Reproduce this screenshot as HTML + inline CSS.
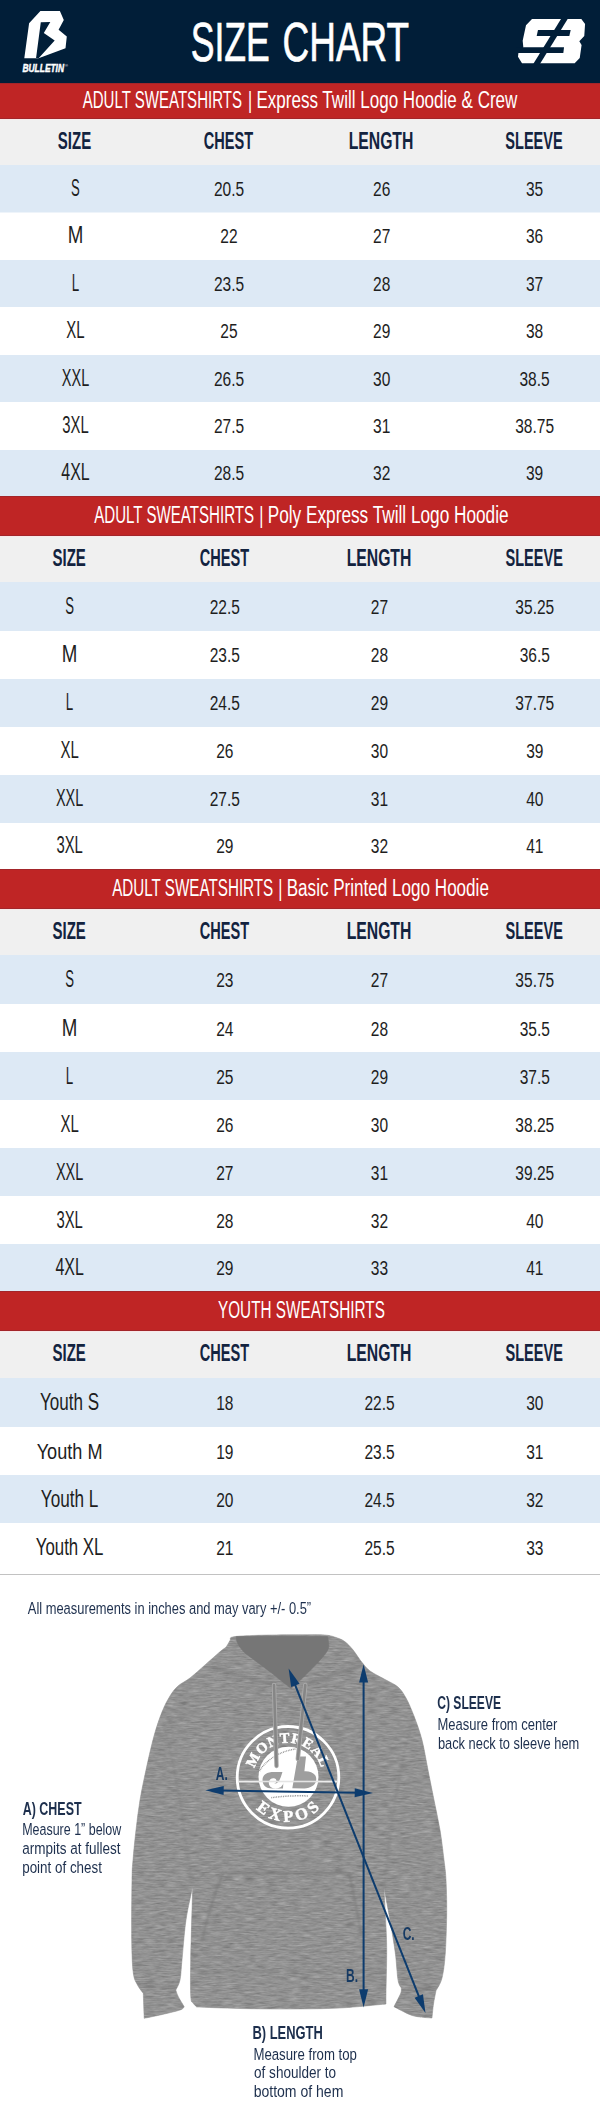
<!DOCTYPE html>
<html lang="en"><head><meta charset="utf-8"><title>Size Chart</title>
<style>html,body{margin:0;padding:0;background:#fff}svg{display:block}</style>
</head><body>
<svg width="600" height="2110" viewBox="0 0 600 2110" font-family="'Liberation Sans', sans-serif">
<rect x="0" y="0" width="600" height="2110" fill="#fff"/>
<rect x="0" y="0" width="600" height="83" fill="#011e38"/>
<rect x="0" y="83" width="600" height="36" fill="#bf2525"/>
<rect x="0" y="119" width="600" height="46" fill="#f0f0f0"/>
<rect x="0" y="83" width="600" height="1" fill="#a3252a"/>
<rect x="0" y="118" width="600" height="1" fill="#a3252a"/>
<rect x="0" y="119" width="600" height="1" fill="#f7e9ea"/>
<rect x="0" y="165.00" width="600" height="47.50" fill="#dde9f5"/>
<rect x="0" y="260.00" width="600" height="47.00" fill="#dde9f5"/>
<rect x="0" y="355.00" width="600" height="47.00" fill="#dde9f5"/>
<rect x="0" y="450.00" width="600" height="46.00" fill="#dde9f5"/>
<rect x="0" y="496" width="600" height="40" fill="#bf2525"/>
<rect x="0" y="536" width="600" height="46" fill="#f0f0f0"/>
<rect x="0" y="496" width="600" height="1" fill="#a3252a"/>
<rect x="0" y="535" width="600" height="1" fill="#a3252a"/>
<rect x="0" y="536" width="600" height="1" fill="#f7e9ea"/>
<rect x="0" y="582.00" width="600" height="49.00" fill="#dde9f5"/>
<rect x="0" y="679.00" width="600" height="48.00" fill="#dde9f5"/>
<rect x="0" y="775.00" width="600" height="48.00" fill="#dde9f5"/>
<rect x="0" y="869" width="600" height="40" fill="#bf2525"/>
<rect x="0" y="909" width="600" height="46" fill="#f0f0f0"/>
<rect x="0" y="869" width="600" height="1" fill="#a3252a"/>
<rect x="0" y="908" width="600" height="1" fill="#a3252a"/>
<rect x="0" y="909" width="600" height="1" fill="#f7e9ea"/>
<rect x="0" y="955.00" width="600" height="49.00" fill="#dde9f5"/>
<rect x="0" y="1052.00" width="600" height="48.00" fill="#dde9f5"/>
<rect x="0" y="1148.00" width="600" height="48.00" fill="#dde9f5"/>
<rect x="0" y="1244.00" width="600" height="47.00" fill="#dde9f5"/>
<rect x="0" y="1291" width="600" height="40" fill="#bf2525"/>
<rect x="0" y="1331" width="600" height="47" fill="#f0f0f0"/>
<rect x="0" y="1291" width="600" height="1" fill="#a3252a"/>
<rect x="0" y="1330" width="600" height="1" fill="#a3252a"/>
<rect x="0" y="1331" width="600" height="1" fill="#f7e9ea"/>
<rect x="0" y="1378.00" width="600" height="49.00" fill="#dde9f5"/>
<rect x="0" y="1475.00" width="600" height="48.00" fill="#dde9f5"/>
<rect x="0" y="1574" width="600" height="1" fill="#c2c2c2"/>
<text x="82.70" y="107.80" font-size="23" font-weight="normal" fill="#fff" textLength="159.30" lengthAdjust="spacingAndGlyphs">ADULT SWEATSHIRTS</text>
<text transform="translate(250.00 107.80) scale(0.7 1)" font-size="23" fill="#fff" text-anchor="middle">|</text>
<text x="256.41" y="107.80" font-size="23" font-weight="normal" fill="#fff" textLength="260.99" lengthAdjust="spacingAndGlyphs">Express Twill Logo Hoodie &amp; Crew</text>
<text transform="translate(74.50 148.60) scale(0.652 1)" font-size="23" font-weight="bold" fill="#13233f" text-anchor="middle">SIZE</text>
<text transform="translate(228.40 148.60) scale(0.633 1)" font-size="23" font-weight="bold" fill="#13233f" text-anchor="middle">CHEST</text>
<text transform="translate(381.00 148.60) scale(0.685 1)" font-size="23" font-weight="bold" fill="#13233f" text-anchor="middle">LENGTH</text>
<text transform="translate(534.00 148.60) scale(0.632 1)" font-size="23" font-weight="bold" fill="#13233f" text-anchor="middle">SLEEVE</text>
<text transform="translate(75.50 195.85) scale(0.571 1)" font-size="23" font-weight="normal" fill="#1e1e1e" text-anchor="middle">S</text>
<text transform="translate(229.00 195.85) scale(0.740 1)" font-size="21" font-weight="normal" fill="#1e1e1e" text-anchor="middle">20.5</text>
<text transform="translate(381.70 195.85) scale(0.740 1)" font-size="21" font-weight="normal" fill="#1e1e1e" text-anchor="middle">26</text>
<text transform="translate(534.60 195.85) scale(0.740 1)" font-size="21" font-weight="normal" fill="#1e1e1e" text-anchor="middle">35</text>
<text transform="translate(75.50 243.35) scale(0.813 1)" font-size="23" font-weight="normal" fill="#1e1e1e" text-anchor="middle">M</text>
<text transform="translate(229.00 243.35) scale(0.740 1)" font-size="21" font-weight="normal" fill="#1e1e1e" text-anchor="middle">22</text>
<text transform="translate(381.70 243.35) scale(0.740 1)" font-size="21" font-weight="normal" fill="#1e1e1e" text-anchor="middle">27</text>
<text transform="translate(534.60 243.35) scale(0.740 1)" font-size="21" font-weight="normal" fill="#1e1e1e" text-anchor="middle">36</text>
<text transform="translate(75.50 290.60) scale(0.583 1)" font-size="23" font-weight="normal" fill="#1e1e1e" text-anchor="middle">L</text>
<text transform="translate(229.00 290.60) scale(0.740 1)" font-size="21" font-weight="normal" fill="#1e1e1e" text-anchor="middle">23.5</text>
<text transform="translate(381.70 290.60) scale(0.740 1)" font-size="21" font-weight="normal" fill="#1e1e1e" text-anchor="middle">28</text>
<text transform="translate(534.60 290.60) scale(0.740 1)" font-size="21" font-weight="normal" fill="#1e1e1e" text-anchor="middle">37</text>
<text transform="translate(75.50 338.10) scale(0.651 1)" font-size="23" font-weight="normal" fill="#1e1e1e" text-anchor="middle">XL</text>
<text transform="translate(229.00 338.10) scale(0.740 1)" font-size="21" font-weight="normal" fill="#1e1e1e" text-anchor="middle">25</text>
<text transform="translate(381.70 338.10) scale(0.740 1)" font-size="21" font-weight="normal" fill="#1e1e1e" text-anchor="middle">29</text>
<text transform="translate(534.60 338.10) scale(0.740 1)" font-size="21" font-weight="normal" fill="#1e1e1e" text-anchor="middle">38</text>
<text transform="translate(75.50 385.60) scale(0.629 1)" font-size="23" font-weight="normal" fill="#1e1e1e" text-anchor="middle">XXL</text>
<text transform="translate(229.00 385.60) scale(0.740 1)" font-size="21" font-weight="normal" fill="#1e1e1e" text-anchor="middle">26.5</text>
<text transform="translate(381.70 385.60) scale(0.740 1)" font-size="21" font-weight="normal" fill="#1e1e1e" text-anchor="middle">30</text>
<text transform="translate(534.60 385.60) scale(0.740 1)" font-size="21" font-weight="normal" fill="#1e1e1e" text-anchor="middle">38.5</text>
<text transform="translate(75.50 433.10) scale(0.645 1)" font-size="23" font-weight="normal" fill="#1e1e1e" text-anchor="middle">3XL</text>
<text transform="translate(229.00 433.10) scale(0.740 1)" font-size="21" font-weight="normal" fill="#1e1e1e" text-anchor="middle">27.5</text>
<text transform="translate(381.70 433.10) scale(0.740 1)" font-size="21" font-weight="normal" fill="#1e1e1e" text-anchor="middle">31</text>
<text transform="translate(534.60 433.10) scale(0.740 1)" font-size="21" font-weight="normal" fill="#1e1e1e" text-anchor="middle">38.75</text>
<text transform="translate(75.50 480.10) scale(0.693 1)" font-size="23" font-weight="normal" fill="#1e1e1e" text-anchor="middle">4XL</text>
<text transform="translate(229.00 480.10) scale(0.740 1)" font-size="21" font-weight="normal" fill="#1e1e1e" text-anchor="middle">28.5</text>
<text transform="translate(381.70 480.10) scale(0.740 1)" font-size="21" font-weight="normal" fill="#1e1e1e" text-anchor="middle">32</text>
<text transform="translate(534.60 480.10) scale(0.740 1)" font-size="21" font-weight="normal" fill="#1e1e1e" text-anchor="middle">39</text>
<text x="94.18" y="522.80" font-size="23" font-weight="normal" fill="#fff" textLength="159.93" lengthAdjust="spacingAndGlyphs">ADULT SWEATSHIRTS</text>
<text transform="translate(261.30 522.80) scale(0.7 1)" font-size="23" fill="#fff" text-anchor="middle">|</text>
<text x="267.70" y="522.80" font-size="23" font-weight="normal" fill="#fff" textLength="240.91" lengthAdjust="spacingAndGlyphs">Poly Express Twill Logo Hoodie</text>
<text transform="translate(69.20 565.60) scale(0.652 1)" font-size="23" font-weight="bold" fill="#13233f" text-anchor="middle">SIZE</text>
<text transform="translate(224.40 565.60) scale(0.633 1)" font-size="23" font-weight="bold" fill="#13233f" text-anchor="middle">CHEST</text>
<text transform="translate(379.00 565.60) scale(0.685 1)" font-size="23" font-weight="bold" fill="#13233f" text-anchor="middle">LENGTH</text>
<text transform="translate(534.20 565.60) scale(0.632 1)" font-size="23" font-weight="bold" fill="#13233f" text-anchor="middle">SLEEVE</text>
<text transform="translate(69.60 613.90) scale(0.571 1)" font-size="23" font-weight="normal" fill="#1e1e1e" text-anchor="middle">S</text>
<text transform="translate(224.80 613.90) scale(0.740 1)" font-size="21" font-weight="normal" fill="#1e1e1e" text-anchor="middle">22.5</text>
<text transform="translate(379.50 613.90) scale(0.740 1)" font-size="21" font-weight="normal" fill="#1e1e1e" text-anchor="middle">27</text>
<text transform="translate(534.80 613.90) scale(0.740 1)" font-size="21" font-weight="normal" fill="#1e1e1e" text-anchor="middle">35.25</text>
<text transform="translate(69.60 662.40) scale(0.813 1)" font-size="23" font-weight="normal" fill="#1e1e1e" text-anchor="middle">M</text>
<text transform="translate(224.80 662.40) scale(0.740 1)" font-size="21" font-weight="normal" fill="#1e1e1e" text-anchor="middle">23.5</text>
<text transform="translate(379.50 662.40) scale(0.740 1)" font-size="21" font-weight="normal" fill="#1e1e1e" text-anchor="middle">28</text>
<text transform="translate(534.80 662.40) scale(0.740 1)" font-size="21" font-weight="normal" fill="#1e1e1e" text-anchor="middle">36.5</text>
<text transform="translate(69.60 710.40) scale(0.583 1)" font-size="23" font-weight="normal" fill="#1e1e1e" text-anchor="middle">L</text>
<text transform="translate(224.80 710.40) scale(0.740 1)" font-size="21" font-weight="normal" fill="#1e1e1e" text-anchor="middle">24.5</text>
<text transform="translate(379.50 710.40) scale(0.740 1)" font-size="21" font-weight="normal" fill="#1e1e1e" text-anchor="middle">29</text>
<text transform="translate(534.80 710.40) scale(0.740 1)" font-size="21" font-weight="normal" fill="#1e1e1e" text-anchor="middle">37.75</text>
<text transform="translate(69.60 758.40) scale(0.651 1)" font-size="23" font-weight="normal" fill="#1e1e1e" text-anchor="middle">XL</text>
<text transform="translate(224.80 758.40) scale(0.740 1)" font-size="21" font-weight="normal" fill="#1e1e1e" text-anchor="middle">26</text>
<text transform="translate(379.50 758.40) scale(0.740 1)" font-size="21" font-weight="normal" fill="#1e1e1e" text-anchor="middle">30</text>
<text transform="translate(534.80 758.40) scale(0.740 1)" font-size="21" font-weight="normal" fill="#1e1e1e" text-anchor="middle">39</text>
<text transform="translate(69.60 806.40) scale(0.629 1)" font-size="23" font-weight="normal" fill="#1e1e1e" text-anchor="middle">XXL</text>
<text transform="translate(224.80 806.40) scale(0.740 1)" font-size="21" font-weight="normal" fill="#1e1e1e" text-anchor="middle">27.5</text>
<text transform="translate(379.50 806.40) scale(0.740 1)" font-size="21" font-weight="normal" fill="#1e1e1e" text-anchor="middle">31</text>
<text transform="translate(534.80 806.40) scale(0.740 1)" font-size="21" font-weight="normal" fill="#1e1e1e" text-anchor="middle">40</text>
<text transform="translate(69.60 853.40) scale(0.645 1)" font-size="23" font-weight="normal" fill="#1e1e1e" text-anchor="middle">3XL</text>
<text transform="translate(224.80 853.40) scale(0.740 1)" font-size="21" font-weight="normal" fill="#1e1e1e" text-anchor="middle">29</text>
<text transform="translate(379.50 853.40) scale(0.740 1)" font-size="21" font-weight="normal" fill="#1e1e1e" text-anchor="middle">32</text>
<text transform="translate(534.80 853.40) scale(0.740 1)" font-size="21" font-weight="normal" fill="#1e1e1e" text-anchor="middle">41</text>
<text x="112.17" y="895.80" font-size="23" font-weight="normal" fill="#fff" textLength="161.09" lengthAdjust="spacingAndGlyphs">ADULT SWEATSHIRTS</text>
<text transform="translate(280.30 895.80) scale(0.7 1)" font-size="23" fill="#fff" text-anchor="middle">|</text>
<text x="286.73" y="895.80" font-size="23" font-weight="normal" fill="#fff" textLength="202.19" lengthAdjust="spacingAndGlyphs">Basic Printed Logo Hoodie</text>
<text transform="translate(69.20 938.60) scale(0.652 1)" font-size="23" font-weight="bold" fill="#13233f" text-anchor="middle">SIZE</text>
<text transform="translate(224.40 938.60) scale(0.633 1)" font-size="23" font-weight="bold" fill="#13233f" text-anchor="middle">CHEST</text>
<text transform="translate(379.00 938.60) scale(0.685 1)" font-size="23" font-weight="bold" fill="#13233f" text-anchor="middle">LENGTH</text>
<text transform="translate(534.20 938.60) scale(0.632 1)" font-size="23" font-weight="bold" fill="#13233f" text-anchor="middle">SLEEVE</text>
<text transform="translate(69.60 987.00) scale(0.571 1)" font-size="23" font-weight="normal" fill="#1e1e1e" text-anchor="middle">S</text>
<text transform="translate(224.80 987.00) scale(0.740 1)" font-size="21" font-weight="normal" fill="#1e1e1e" text-anchor="middle">23</text>
<text transform="translate(379.50 987.00) scale(0.740 1)" font-size="21" font-weight="normal" fill="#1e1e1e" text-anchor="middle">27</text>
<text transform="translate(534.80 987.00) scale(0.740 1)" font-size="21" font-weight="normal" fill="#1e1e1e" text-anchor="middle">35.75</text>
<text transform="translate(69.60 1035.50) scale(0.813 1)" font-size="23" font-weight="normal" fill="#1e1e1e" text-anchor="middle">M</text>
<text transform="translate(224.80 1035.50) scale(0.740 1)" font-size="21" font-weight="normal" fill="#1e1e1e" text-anchor="middle">24</text>
<text transform="translate(379.50 1035.50) scale(0.740 1)" font-size="21" font-weight="normal" fill="#1e1e1e" text-anchor="middle">28</text>
<text transform="translate(534.80 1035.50) scale(0.740 1)" font-size="21" font-weight="normal" fill="#1e1e1e" text-anchor="middle">35.5</text>
<text transform="translate(69.60 1083.50) scale(0.583 1)" font-size="23" font-weight="normal" fill="#1e1e1e" text-anchor="middle">L</text>
<text transform="translate(224.80 1083.50) scale(0.740 1)" font-size="21" font-weight="normal" fill="#1e1e1e" text-anchor="middle">25</text>
<text transform="translate(379.50 1083.50) scale(0.740 1)" font-size="21" font-weight="normal" fill="#1e1e1e" text-anchor="middle">29</text>
<text transform="translate(534.80 1083.50) scale(0.740 1)" font-size="21" font-weight="normal" fill="#1e1e1e" text-anchor="middle">37.5</text>
<text transform="translate(69.60 1131.50) scale(0.651 1)" font-size="23" font-weight="normal" fill="#1e1e1e" text-anchor="middle">XL</text>
<text transform="translate(224.80 1131.50) scale(0.740 1)" font-size="21" font-weight="normal" fill="#1e1e1e" text-anchor="middle">26</text>
<text transform="translate(379.50 1131.50) scale(0.740 1)" font-size="21" font-weight="normal" fill="#1e1e1e" text-anchor="middle">30</text>
<text transform="translate(534.80 1131.50) scale(0.740 1)" font-size="21" font-weight="normal" fill="#1e1e1e" text-anchor="middle">38.25</text>
<text transform="translate(69.60 1179.50) scale(0.629 1)" font-size="23" font-weight="normal" fill="#1e1e1e" text-anchor="middle">XXL</text>
<text transform="translate(224.80 1179.50) scale(0.740 1)" font-size="21" font-weight="normal" fill="#1e1e1e" text-anchor="middle">27</text>
<text transform="translate(379.50 1179.50) scale(0.740 1)" font-size="21" font-weight="normal" fill="#1e1e1e" text-anchor="middle">31</text>
<text transform="translate(534.80 1179.50) scale(0.740 1)" font-size="21" font-weight="normal" fill="#1e1e1e" text-anchor="middle">39.25</text>
<text transform="translate(69.60 1227.50) scale(0.645 1)" font-size="23" font-weight="normal" fill="#1e1e1e" text-anchor="middle">3XL</text>
<text transform="translate(224.80 1227.50) scale(0.740 1)" font-size="21" font-weight="normal" fill="#1e1e1e" text-anchor="middle">28</text>
<text transform="translate(379.50 1227.50) scale(0.740 1)" font-size="21" font-weight="normal" fill="#1e1e1e" text-anchor="middle">32</text>
<text transform="translate(534.80 1227.50) scale(0.740 1)" font-size="21" font-weight="normal" fill="#1e1e1e" text-anchor="middle">40</text>
<text transform="translate(69.60 1275.00) scale(0.693 1)" font-size="23" font-weight="normal" fill="#1e1e1e" text-anchor="middle">4XL</text>
<text transform="translate(224.80 1275.00) scale(0.740 1)" font-size="21" font-weight="normal" fill="#1e1e1e" text-anchor="middle">29</text>
<text transform="translate(379.50 1275.00) scale(0.740 1)" font-size="21" font-weight="normal" fill="#1e1e1e" text-anchor="middle">33</text>
<text transform="translate(534.80 1275.00) scale(0.740 1)" font-size="21" font-weight="normal" fill="#1e1e1e" text-anchor="middle">41</text>
<text x="217.97" y="1317.80" font-size="23" font-weight="normal" fill="#fff" textLength="166.94" lengthAdjust="spacingAndGlyphs">YOUTH SWEATSHIRTS</text>
<text transform="translate(69.20 1361.10) scale(0.652 1)" font-size="23" font-weight="bold" fill="#13233f" text-anchor="middle">SIZE</text>
<text transform="translate(224.40 1361.10) scale(0.633 1)" font-size="23" font-weight="bold" fill="#13233f" text-anchor="middle">CHEST</text>
<text transform="translate(379.00 1361.10) scale(0.685 1)" font-size="23" font-weight="bold" fill="#13233f" text-anchor="middle">LENGTH</text>
<text transform="translate(534.20 1361.10) scale(0.632 1)" font-size="23" font-weight="bold" fill="#13233f" text-anchor="middle">SLEEVE</text>
<text transform="translate(69.60 1410.00) scale(0.742 1)" font-size="23" font-weight="normal" fill="#1e1e1e" text-anchor="middle">Youth S</text>
<text transform="translate(224.80 1410.00) scale(0.740 1)" font-size="21" font-weight="normal" fill="#1e1e1e" text-anchor="middle">18</text>
<text transform="translate(379.50 1410.00) scale(0.740 1)" font-size="21" font-weight="normal" fill="#1e1e1e" text-anchor="middle">22.5</text>
<text transform="translate(534.80 1410.00) scale(0.740 1)" font-size="21" font-weight="normal" fill="#1e1e1e" text-anchor="middle">30</text>
<text transform="translate(69.60 1458.50) scale(0.788 1)" font-size="23" font-weight="normal" fill="#1e1e1e" text-anchor="middle">Youth M</text>
<text transform="translate(224.80 1458.50) scale(0.740 1)" font-size="21" font-weight="normal" fill="#1e1e1e" text-anchor="middle">19</text>
<text transform="translate(379.50 1458.50) scale(0.740 1)" font-size="21" font-weight="normal" fill="#1e1e1e" text-anchor="middle">23.5</text>
<text transform="translate(534.80 1458.50) scale(0.740 1)" font-size="21" font-weight="normal" fill="#1e1e1e" text-anchor="middle">31</text>
<text transform="translate(69.60 1506.50) scale(0.746 1)" font-size="23" font-weight="normal" fill="#1e1e1e" text-anchor="middle">Youth L</text>
<text transform="translate(224.80 1506.50) scale(0.740 1)" font-size="21" font-weight="normal" fill="#1e1e1e" text-anchor="middle">20</text>
<text transform="translate(379.50 1506.50) scale(0.740 1)" font-size="21" font-weight="normal" fill="#1e1e1e" text-anchor="middle">24.5</text>
<text transform="translate(534.80 1506.50) scale(0.740 1)" font-size="21" font-weight="normal" fill="#1e1e1e" text-anchor="middle">32</text>
<text transform="translate(69.60 1554.50) scale(0.731 1)" font-size="23" font-weight="normal" fill="#1e1e1e" text-anchor="middle">Youth XL</text>
<text transform="translate(224.80 1554.50) scale(0.740 1)" font-size="21" font-weight="normal" fill="#1e1e1e" text-anchor="middle">21</text>
<text transform="translate(379.50 1554.50) scale(0.740 1)" font-size="21" font-weight="normal" fill="#1e1e1e" text-anchor="middle">25.5</text>
<text transform="translate(534.80 1554.50) scale(0.740 1)" font-size="21" font-weight="normal" fill="#1e1e1e" text-anchor="middle">33</text>
<text x="190.74" y="61.00" font-size="55.7" font-weight="normal" fill="#fff" textLength="79.13" lengthAdjust="spacingAndGlyphs" stroke="#fff" stroke-width="0.7">SIZE</text>
<text x="282.58" y="61.00" font-size="55.7" font-weight="normal" fill="#fff" textLength="126.49" lengthAdjust="spacingAndGlyphs" stroke="#fff" stroke-width="0.7">CHART</text>
<path d="M40.40,11.00 L59.90,11.00 L63.80,20.10 L58.60,29.70 L66.80,36.60 L65.50,48.30 L38.60,58.30 L24.30,58.30 L29.10,23.20 Z M40.80,22.30 L50.30,21.90 L43.80,33.10 L54.70,40.50 L38.40,58.40 L36.00,58.40 Z" fill="#fff" fill-rule="evenodd"/>
<text x="22.5" y="71.5" font-size="10.9" font-weight="bold" font-style="italic" fill="#fff" stroke="#fff" stroke-width="0.45" textLength="41.5" lengthAdjust="spacingAndGlyphs">BULLETIN</text>
<text x="65" y="67" font-size="4" fill="#fff">®</text>
<polygon points="532.00,19.07 581.33,19.07 585.07,24.00 584.27,36.00 579.33,41.33 581.60,44.93 579.73,58.00 574.67,63.33 522.00,63.33 518.00,56.67 518.40,52.93 523.33,47.33 522.67,40.67 526.00,25.33" fill="#fff"/>
<polygon points="538.00,30.00 570.67,30.00 569.33,36.00 536.67,36.00" fill="#011e38"/>
<polygon points="516.00,47.33 564.00,47.33 563.33,52.93 516.00,52.93" fill="#011e38"/>
<polygon points="561.60,18.00 568.27,18.00 539.60,64.40 532.93,64.40" fill="#011e38"/>
<defs><clipPath id="hc"><path d="M233.75,1636.75 C239.08,1635.87 250.96,1635.53 262.00,1635.20 C273.04,1634.88 289.50,1634.83 300.00,1634.80 C310.50,1634.77 318.75,1634.47 325.00,1635.00 C331.25,1635.53 334.17,1636.88 337.50,1638.00 C340.83,1639.12 342.50,1639.88 345.00,1641.75 C347.50,1643.62 350.21,1646.54 352.50,1649.25 C354.79,1651.96 357.08,1655.71 358.75,1658.00 C360.42,1660.29 360.62,1660.83 362.50,1663.00 C364.38,1665.17 366.08,1668.17 370.00,1671.00 C373.92,1673.83 381.33,1677.33 386.00,1680.00 C390.67,1682.67 394.67,1684.00 398.00,1687.00 C401.33,1690.00 403.33,1693.17 406.00,1698.00 C408.67,1702.83 411.33,1709.00 414.00,1716.00 C416.67,1723.00 419.67,1731.00 422.00,1740.00 C424.33,1749.00 426.00,1760.00 428.00,1770.00 C430.00,1780.00 432.00,1790.00 434.00,1800.00 C436.00,1810.00 438.33,1820.00 440.00,1830.00 C441.67,1840.00 443.00,1851.67 444.00,1860.00 C445.00,1868.33 445.55,1871.17 446.00,1880.00 C446.45,1888.83 446.82,1900.83 446.70,1913.00 C446.58,1925.17 446.08,1942.17 445.30,1953.00 C444.52,1963.83 443.55,1971.72 442.00,1978.00 C440.45,1984.28 437.00,1988.58 436.00,1990.70 C435.58,1992.92 434.17,1999.45 433.50,2004.00 C432.83,2008.55 432.25,2015.67 432.00,2018.00 C430.00,2017.83 423.67,2017.55 420.00,2017.00 C416.33,2016.45 414.33,2016.42 410.00,2014.70 C405.67,2012.98 396.67,2008.03 394.00,2006.70 C395.12,2004.47 399.48,1996.42 400.70,1993.30 C401.92,1990.18 401.20,1988.88 401.30,1988.00 C400.75,1986.67 399.00,1985.83 398.00,1980.00 C397.00,1974.17 396.63,1963.00 395.30,1953.00 C393.97,1943.00 391.88,1930.83 390.00,1920.00 C388.12,1909.17 385.00,1893.33 384.00,1888.00 C384.33,1894.45 385.55,1915.87 386.00,1926.70 C386.45,1937.53 386.70,1941.90 386.70,1953.00 C386.70,1964.10 386.12,1984.80 386.00,1993.30 C385.88,2001.80 386.00,2002.22 386.00,2004.00 C378.33,2004.67 356.00,2007.17 340.00,2008.00 C324.00,2008.83 306.67,2008.92 290.00,2009.00 C273.33,2009.08 255.55,2008.83 240.00,2008.50 C224.45,2008.17 203.92,2007.25 196.70,2007.00 C196.13,2006.38 194.28,2005.02 193.30,2003.30 C192.32,2001.58 191.23,2003.92 190.80,1996.70 C190.37,1989.48 190.38,1978.33 190.70,1960.00 C191.02,1941.67 192.37,1898.92 192.70,1886.70 C191.58,1892.25 187.78,1907.78 186.00,1920.00 C184.22,1932.22 183.00,1950.00 182.00,1960.00 C181.00,1970.00 181.03,1975.00 180.00,1980.00 C178.97,1985.00 176.50,1988.33 175.80,1990.00 C176.22,1991.12 176.90,1993.92 178.30,1996.70 C179.70,1999.48 183.22,2005.03 184.20,2006.70 C183.50,2007.25 184.03,2008.62 180.00,2010.00 C175.97,2011.38 165.97,2013.62 160.00,2015.00 C154.03,2016.38 146.83,2017.75 144.20,2018.30 C144.05,2014.13 143.45,1997.47 143.30,1993.30 C142.33,1991.92 139.17,1988.38 137.50,1985.00 C135.83,1981.62 134.27,1980.50 133.30,1973.00 C132.33,1965.50 131.92,1955.50 131.70,1940.00 C131.48,1924.50 131.78,1893.33 132.00,1880.00 C132.22,1866.67 132.33,1868.33 133.00,1860.00 C133.67,1851.67 134.83,1840.00 136.00,1830.00 C137.17,1820.00 138.33,1810.00 140.00,1800.00 C141.67,1790.00 143.67,1780.67 146.00,1770.00 C148.33,1759.33 151.33,1745.67 154.00,1736.00 C156.67,1726.33 159.33,1718.67 162.00,1712.00 C164.67,1705.33 167.33,1700.33 170.00,1696.00 C172.67,1691.67 174.67,1689.00 178.00,1686.00 C181.33,1683.00 185.45,1681.55 190.00,1678.00 C194.55,1674.45 200.30,1669.08 205.30,1664.70 C210.30,1660.33 216.51,1654.74 220.00,1651.75 C223.49,1648.76 224.58,1648.62 226.25,1646.75 C227.92,1644.88 228.75,1642.17 230.00,1640.50 C231.25,1638.83 228.42,1637.63 233.75,1636.75 Z"/></clipPath><filter id="nz" x="0" y="0" width="100%" height="100%" color-interpolation-filters="sRGB"><feTurbulence type="fractalNoise" baseFrequency="0.09 0.6" numOctaves="3" seed="5"/><feColorMatrix type="matrix" values="0.33 0.33 0.33 0 0 0.33 0.33 0.33 0 0 0.33 0.33 0.33 0 0 0 0 0 0 1"/></filter><filter id="bl"><feGaussianBlur stdDeviation="1.2"/></filter></defs>
<path d="M233.75,1636.75 C239.08,1635.87 250.96,1635.53 262.00,1635.20 C273.04,1634.88 289.50,1634.83 300.00,1634.80 C310.50,1634.77 318.75,1634.47 325.00,1635.00 C331.25,1635.53 334.17,1636.88 337.50,1638.00 C340.83,1639.12 342.50,1639.88 345.00,1641.75 C347.50,1643.62 350.21,1646.54 352.50,1649.25 C354.79,1651.96 357.08,1655.71 358.75,1658.00 C360.42,1660.29 360.62,1660.83 362.50,1663.00 C364.38,1665.17 366.08,1668.17 370.00,1671.00 C373.92,1673.83 381.33,1677.33 386.00,1680.00 C390.67,1682.67 394.67,1684.00 398.00,1687.00 C401.33,1690.00 403.33,1693.17 406.00,1698.00 C408.67,1702.83 411.33,1709.00 414.00,1716.00 C416.67,1723.00 419.67,1731.00 422.00,1740.00 C424.33,1749.00 426.00,1760.00 428.00,1770.00 C430.00,1780.00 432.00,1790.00 434.00,1800.00 C436.00,1810.00 438.33,1820.00 440.00,1830.00 C441.67,1840.00 443.00,1851.67 444.00,1860.00 C445.00,1868.33 445.55,1871.17 446.00,1880.00 C446.45,1888.83 446.82,1900.83 446.70,1913.00 C446.58,1925.17 446.08,1942.17 445.30,1953.00 C444.52,1963.83 443.55,1971.72 442.00,1978.00 C440.45,1984.28 437.00,1988.58 436.00,1990.70 C435.58,1992.92 434.17,1999.45 433.50,2004.00 C432.83,2008.55 432.25,2015.67 432.00,2018.00 C430.00,2017.83 423.67,2017.55 420.00,2017.00 C416.33,2016.45 414.33,2016.42 410.00,2014.70 C405.67,2012.98 396.67,2008.03 394.00,2006.70 C395.12,2004.47 399.48,1996.42 400.70,1993.30 C401.92,1990.18 401.20,1988.88 401.30,1988.00 C400.75,1986.67 399.00,1985.83 398.00,1980.00 C397.00,1974.17 396.63,1963.00 395.30,1953.00 C393.97,1943.00 391.88,1930.83 390.00,1920.00 C388.12,1909.17 385.00,1893.33 384.00,1888.00 C384.33,1894.45 385.55,1915.87 386.00,1926.70 C386.45,1937.53 386.70,1941.90 386.70,1953.00 C386.70,1964.10 386.12,1984.80 386.00,1993.30 C385.88,2001.80 386.00,2002.22 386.00,2004.00 C378.33,2004.67 356.00,2007.17 340.00,2008.00 C324.00,2008.83 306.67,2008.92 290.00,2009.00 C273.33,2009.08 255.55,2008.83 240.00,2008.50 C224.45,2008.17 203.92,2007.25 196.70,2007.00 C196.13,2006.38 194.28,2005.02 193.30,2003.30 C192.32,2001.58 191.23,2003.92 190.80,1996.70 C190.37,1989.48 190.38,1978.33 190.70,1960.00 C191.02,1941.67 192.37,1898.92 192.70,1886.70 C191.58,1892.25 187.78,1907.78 186.00,1920.00 C184.22,1932.22 183.00,1950.00 182.00,1960.00 C181.00,1970.00 181.03,1975.00 180.00,1980.00 C178.97,1985.00 176.50,1988.33 175.80,1990.00 C176.22,1991.12 176.90,1993.92 178.30,1996.70 C179.70,1999.48 183.22,2005.03 184.20,2006.70 C183.50,2007.25 184.03,2008.62 180.00,2010.00 C175.97,2011.38 165.97,2013.62 160.00,2015.00 C154.03,2016.38 146.83,2017.75 144.20,2018.30 C144.05,2014.13 143.45,1997.47 143.30,1993.30 C142.33,1991.92 139.17,1988.38 137.50,1985.00 C135.83,1981.62 134.27,1980.50 133.30,1973.00 C132.33,1965.50 131.92,1955.50 131.70,1940.00 C131.48,1924.50 131.78,1893.33 132.00,1880.00 C132.22,1866.67 132.33,1868.33 133.00,1860.00 C133.67,1851.67 134.83,1840.00 136.00,1830.00 C137.17,1820.00 138.33,1810.00 140.00,1800.00 C141.67,1790.00 143.67,1780.67 146.00,1770.00 C148.33,1759.33 151.33,1745.67 154.00,1736.00 C156.67,1726.33 159.33,1718.67 162.00,1712.00 C164.67,1705.33 167.33,1700.33 170.00,1696.00 C172.67,1691.67 174.67,1689.00 178.00,1686.00 C181.33,1683.00 185.45,1681.55 190.00,1678.00 C194.55,1674.45 200.30,1669.08 205.30,1664.70 C210.30,1660.33 216.51,1654.74 220.00,1651.75 C223.49,1648.76 224.58,1648.62 226.25,1646.75 C227.92,1644.88 228.75,1642.17 230.00,1640.50 C231.25,1638.83 228.42,1637.63 233.75,1636.75 Z" fill="#9e9e9e" stroke="#9e9e9e" stroke-width="0.6" stroke-linejoin="round"/>
<g clip-path="url(#hc)"><rect x="120" y="1630" width="340" height="395" filter="url(#nz)" opacity="0.4"/></g>
<g clip-path="url(#hc)" filter="url(#bl)" fill="none" stroke="#7a7a7a" stroke-width="2.2" opacity="0.7"><path d="M212,1667 C230,1673 252,1679 274,1685"/><path d="M303,1685 C322,1679 342,1672 361,1665"/><path d="M223,1873 L349,1873 M223,1873 C214,1895 206,1920 202,1942 M349,1873 C354,1895 358,1915 361,1934"/><path d="M192,1971 L385,1971" stroke-width="1.4" opacity="0.6"/><path d="M160,1712 C175,1760 185,1830 192,1887" stroke-width="1.6" opacity="0.5"/><path d="M414,1716 C400,1760 390,1830 384,1888" stroke-width="1.6" opacity="0.5"/><path d="M137,1985 L176,1988" stroke-width="1.4"/><path d="M401,1990 L437,1988" stroke-width="1.4"/></g>
<path d="M236.25,1636.60 C243.88,1636.55 266.79,1636.30 282.00,1636.30 C297.21,1636.30 319.92,1636.55 327.50,1636.60 C327.71,1638.29 329.17,1643.81 328.75,1646.75 C328.33,1649.69 327.29,1651.12 325.00,1654.25 C322.71,1657.38 318.75,1661.54 315.00,1665.50 C311.25,1669.46 306.50,1674.17 302.50,1678.00 C298.50,1681.83 292.92,1686.75 291.00,1688.50 C289.58,1687.38 286.00,1684.54 282.50,1681.75 C279.00,1678.96 274.58,1675.29 270.00,1671.75 C265.42,1668.21 259.38,1663.83 255.00,1660.50 C250.62,1657.17 246.67,1654.67 243.75,1651.75 C240.83,1648.83 238.75,1645.53 237.50,1643.00 C236.25,1640.47 236.46,1637.67 236.25,1636.60 Z" fill="#767676" stroke="#767676" stroke-width="0.6" stroke-linejoin="round"/>
<circle cx="288" cy="1777.3" r="50.8" fill="none" stroke="#fff" stroke-width="2.8"/>
<rect x="238.5" y="1780.7" width="99" height="1.8" fill="#ececec"/>
<circle cx="288.5" cy="1776.8" r="30" fill="#fff"/>
<path d="M259.5,1771 C266,1760 280,1751 296,1749" stroke="#8a8a8a" stroke-width="1.5" stroke-dasharray="0.8 0.9" fill="none"/>
<path d="M271.4,1797.7 C283,1796 298,1795.5 308,1796" stroke="#8a8a8a" stroke-width="1.5" stroke-dasharray="0.8 0.9" fill="none"/>
<path d="M262.5,1780 C262.5,1774.5 267,1772 274,1772 L284,1772 L283,1788.5 L272,1788.5 C266,1788.5 262.5,1785 262.5,1780 Z" fill="#9e9e9e"/>
<path d="M289,1757 C287,1766 284.5,1776 281.5,1782 C279.5,1786 275,1787.2 272.3,1785 C270.6,1783.2 271.5,1780.5 273.8,1780.8" stroke="#fff" stroke-width="5.2" fill="none" stroke-linecap="round"/>
<path d="M297.8,1756.5 L306,1756.5 L304.4,1771.3 C309,1771 313,1772.5 315,1775 C317.2,1778 316.5,1783 313.2,1785.6 C310.5,1787.8 307,1788.4 304.4,1788.4 L292.3,1788.2 Z" fill="#9e9e9e"/>
<rect x="258.7" y="1780.7" width="59.6" height="1.6" fill="#e4e4e4"/>
<defs><path id="arcTop" d="M253.50,1777.30 A34.5,34.5 0 0 1 322.50,1777.30"/><path id="arcBot" d="M243.50,1777.30 A44.5,44.5 0 0 0 332.50,1777.30"/></defs>
<text font-family="'Liberation Serif', serif" font-weight="bold" font-size="14.5" fill="#fff" stroke="#fff" stroke-width="0.5" letter-spacing="0.6"><textPath href="#arcTop" startOffset="50%" text-anchor="middle">MONTREAL</textPath></text>
<text font-family="'Liberation Serif', serif" font-weight="bold" font-size="16.5" fill="#fff" stroke="#fff" stroke-width="0.5" letter-spacing="4"><textPath href="#arcBot" startOffset="51.5%" text-anchor="middle">EXPOS</textPath></text>
<path d="M274,1685 L276.5,1766" stroke="#ababab" stroke-width="4.4" stroke-linecap="round" fill="none"/>
<path d="M274,1685 L276.5,1766" stroke="#868686" stroke-width="2.6" stroke-linecap="round" fill="none"/>
<path d="M305.3,1685 L297.8,1759" stroke="#ababab" stroke-width="4.4" stroke-linecap="round" fill="none"/>
<path d="M305.3,1685 L297.8,1759" stroke="#868686" stroke-width="2.6" stroke-linecap="round" fill="none"/>
<line x1="220.04" y1="1790.44" x2="358.36" y2="1792.76" stroke="#0d3c6e" stroke-width="2"/>
<polygon points="373.00,1793.00 354.63,1797.19 354.78,1788.19" fill="#0d3c6e"/>
<polygon points="205.40,1790.20 223.62,1795.01 223.77,1786.01" fill="#0d3c6e"/>
<line x1="363.60" y1="1678.84" x2="363.60" y2="1992.86" stroke="#0d3c6e" stroke-width="2"/>
<polygon points="363.60,2007.50 359.10,1989.20 368.10,1989.20" fill="#0d3c6e"/>
<polygon points="363.60,1664.20 359.10,1682.50 368.10,1682.50" fill="#0d3c6e"/>
<line x1="294.01" y1="1682.01" x2="420.09" y2="1999.39" stroke="#0d3c6e" stroke-width="2"/>
<polygon points="425.50,2013.00 414.56,1997.65 422.93,1994.33" fill="#0d3c6e"/>
<polygon points="288.60,1668.40 291.17,1687.07 299.54,1683.75" fill="#0d3c6e"/>
<text x="215.8" y="1780.4" font-size="17.5" font-weight="bold" fill="#163a63" textLength="12" lengthAdjust="spacingAndGlyphs">A.</text>
<text x="346" y="1981.5" font-size="17.5" font-weight="bold" fill="#163a63" textLength="12" lengthAdjust="spacingAndGlyphs">B.</text>
<text x="402.7" y="1940" font-size="17.5" font-weight="bold" fill="#163a63" textLength="12" lengthAdjust="spacingAndGlyphs">C.</text>
<text x="27.79" y="1613.75" font-size="16.3" font-weight="normal" fill="#1d2f4d" textLength="283.35" lengthAdjust="spacingAndGlyphs">All measurements in inches and may vary +/- 0.5”</text>
<text x="437.24" y="1709.00" font-size="18.5" font-weight="bold" fill="#1d2f4d" textLength="63.80" lengthAdjust="spacingAndGlyphs">C) SLEEVE</text>
<text x="437.56" y="1729.60" font-size="17.2" font-weight="normal" fill="#1d2f4d" textLength="119.86" lengthAdjust="spacingAndGlyphs">Measure from center</text>
<text x="437.88" y="1749.00" font-size="17.2" font-weight="normal" fill="#1d2f4d" textLength="141.42" lengthAdjust="spacingAndGlyphs">back neck to sleeve hem</text>
<text x="22.69" y="1814.50" font-size="18.5" font-weight="bold" fill="#1d2f4d" textLength="58.88" lengthAdjust="spacingAndGlyphs">A) CHEST</text>
<text x="22.21" y="1835.00" font-size="17.2" font-weight="normal" fill="#1d2f4d" textLength="99.07" lengthAdjust="spacingAndGlyphs">Measure 1” below</text>
<text x="22.21" y="1854.00" font-size="17.2" font-weight="normal" fill="#1d2f4d" textLength="98.23" lengthAdjust="spacingAndGlyphs">armpits at fullest</text>
<text x="22.21" y="1872.50" font-size="17.2" font-weight="normal" fill="#1d2f4d" textLength="79.71" lengthAdjust="spacingAndGlyphs">point of chest</text>
<text x="252.43" y="2039.00" font-size="18.5" font-weight="bold" fill="#1d2f4d" textLength="70.37" lengthAdjust="spacingAndGlyphs">B) LENGTH</text>
<text x="253.40" y="2059.70" font-size="17.2" font-weight="normal" fill="#1d2f4d" textLength="103.56" lengthAdjust="spacingAndGlyphs">Measure from top</text>
<text x="254.06" y="2078.30" font-size="17.2" font-weight="normal" fill="#1d2f4d" textLength="82.06" lengthAdjust="spacingAndGlyphs">of shoulder to</text>
<text x="253.67" y="2097.00" font-size="17.2" font-weight="normal" fill="#1d2f4d" textLength="89.71" lengthAdjust="spacingAndGlyphs">bottom of hem</text>
</svg>
</body></html>
